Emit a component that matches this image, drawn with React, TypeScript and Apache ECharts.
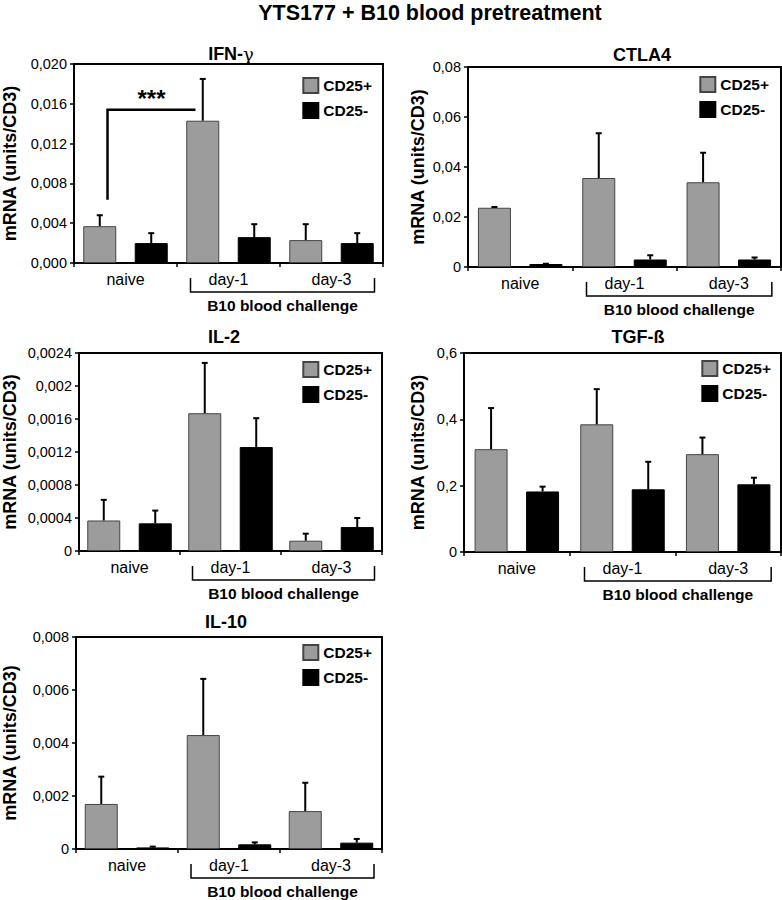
import React, { useEffect, useRef } from "react";
import * as echarts from "echarts";

const categories = ["naive", "day-1", "day-3"];
const seriesNames = ["CD25+", "CD25-"];

// IFN-gamma
const ifnPos = [0.0037, 0.0143, 0.0023];
const ifnPosErr = [0.0048, 0.0185, 0.0039];
const ifnNeg = [0.002, 0.0026, 0.002];
const ifnNegErr = [0.003, 0.0039, 0.003];
const ifnTicks = { max: 0.02, interval: 0.004 };

// CTLA4
const ctlaPos = [0.0237, 0.0356, 0.0339];
const ctlaPosErr = [0.024, 0.0535, 0.0457];
const ctlaNeg = [0.0012, 0.003, 0.003];
const ctlaNegErr = [0.0013, 0.0047, 0.0038];
const ctlaTicks = { max: 0.08, interval: 0.02 };

// IL-2
const il2Pos = [0.00037, 0.00167, 0.000125];
const il2PosErr = [0.00062, 0.00228, 0.00021];
const il2Neg = [0.000335, 0.00126, 0.00029];
const il2NegErr = [0.00049, 0.00161, 0.0004];
const il2Ticks = { max: 0.0024, interval: 0.0004 };

// TGF-beta
const tgfPos = [0.31, 0.385, 0.295];
const tgfPosErr = [0.434, 0.491, 0.345];
const tgfNeg = [0.1825, 0.189, 0.204];
const tgfNegErr = [0.197, 0.272, 0.224];
const tgfTicks = { max: 0.6, interval: 0.2 };

// IL-10
const il10Pos = [0.0017, 0.0043, 0.00143];
const il10PosErr = [0.00273, 0.00642, 0.0025];
const il10Neg = [0.00006, 0.000176, 0.00024];
const il10NegErr = [0.00009, 0.00025, 0.00038];
const il10Ticks = { max: 0.008, interval: 0.002 };

// significance bracket (IFN): [from category, to category, low y, high y]
const sigBracket = [[0, 1, 0.00635, 0.0154]];
const sigLabel = "***";

const mainTitle = "YTS177 + B10 blood pretreatment";
const yName = "mRNA (units/CD3)";
const challengeLabel = "B10 blood challenge";

const FONT = "'Liberation Sans', Arial, Helvetica, sans-serif";
const NARROW = "'Liberation Sans Narrow', 'Arial Narrow', 'Liberation Sans', Arial, sans-serif";
const GRAY = "#9c9c9c";
const BLACK = "#000000";
const BAR_W = 33;
const BAR_GAP = 0.56;
const OFF = (BAR_W + BAR_W * BAR_GAP) / 2;

const panels = [
  {
    title: "{b|IFN-}{g|γ}", tx: 231, ty: 54,
    grid: { left: 73, top: 64, width: 310, height: 199 },
    ticks: ifnTicks, dec: 3, pos: ifnPos, posErr: ifnPosErr, neg: ifnNeg, negErr: ifnNegErr,
    nameGap: 55, legRight: 410, legTop: 77,
  },
  {
    title: "{b|CTLA4}", tx: 642, ty: 55,
    grid: { left: 468, top: 67, width: 313, height: 200 },
    ticks: ctlaTicks, dec: 0, pos: ctlaPos, posErr: ctlaPosErr, neg: ctlaNeg, negErr: ctlaNegErr,
    nameGap: 41, legRight: 13, legTop: 76,
  },
  {
    title: "{b|IL-2}", tx: 224, ty: 337,
    grid: { left: 79, top: 353, width: 303, height: 198 },
    ticks: il2Ticks, dec: 0, pos: il2Pos, posErr: il2PosErr, neg: il2Neg, negErr: il2NegErr,
    nameGap: 60, legRight: 410, legTop: 361,
  },
  {
    title: "{b|TGF-ß}", tx: 638, ty: 337,
    grid: { left: 464, top: 353, width: 317, height: 199 },
    ticks: tgfTicks, dec: 0, pos: tgfPos, posErr: tgfPosErr, neg: tgfNeg, negErr: tgfNegErr,
    nameGap: 37, legRight: 11, legTop: 360,
  },
  {
    title: "{b|IL-10}", tx: 226, ty: 622,
    grid: { left: 76, top: 637, width: 306, height: 212 },
    ticks: il10Ticks, dec: 0, pos: il10Pos, posErr: il10PosErr, neg: il10Neg, negErr: il10NegErr,
    nameGap: 57, legRight: 410, legTop: 644,
  },
];

function fmt(dec: number) {
  return (v: number) => {
    if (dec) return v.toFixed(dec).replace(".", ",");
    if (v === 0) return "0";
    return String(parseFloat(v.toFixed(8))).replace(".", ",");
  };
}

function errRender(offset: number) {
  return (params: any, api: any) => {
    const c = api.value(0);
    const v = api.value(1);
    const e = api.value(2);
    const p0 = api.coord([c, v]);
    const p1 = api.coord([c, e]);
    const x = p0[0] + offset;
    return {
      type: "group",
      children: [
        { type: "line", shape: { x1: x, y1: p0[1], x2: x, y2: p1[1] }, style: { stroke: "#000", lineWidth: 2 } },
        { type: "line", shape: { x1: x - 3, y1: p1[1], x2: x + 3, y2: p1[1] }, style: { stroke: "#000", lineWidth: 2 } },
      ],
    };
  };
}

function bracketRender(params: any, api: any) {
  const a = api.coord([1, 0]);
  const b = api.coord([2, 0]);
  const y = a[1];
  const l = a[0] - 38;
  const r = b[0] + 43;
  return {
    type: "group",
    children: [
      {
        type: "polyline",
        shape: { points: [[l, y + 15], [l, y + 29], [r, y + 29], [r, y + 15]] },
        style: { stroke: "#000", lineWidth: 1.5, fill: "none" },
      },
      {
        type: "text",
        x: (l + r) / 2,
        y: y + 42,
        style: {
          text: challengeLabel, fontSize: 15.5, fontWeight: "bold", fontFamily: FONT,
          fill: "#000", align: "center", verticalAlign: "middle",
        },
      },
    ],
  };
}

function sigRender(params: any, api: any) {
  const c0 = api.value(0);
  const c1 = api.value(1);
  const lo = api.coord([c0, api.value(2)]);
  const hi = api.coord([c1, api.value(3)]);
  const xl = lo[0] - 18;
  const xr = hi[0] - 33;
  return {
    type: "group",
    children: [
      {
        type: "polyline",
        shape: { points: [[xl, lo[1]], [xl, hi[1]], [xr, hi[1]]] },
        style: { stroke: "#000", lineWidth: 2.5, fill: "none" },
      },
      {
        type: "text",
        x: (xl + xr) / 2,
        y: hi[1] + 1,
        style: {
          text: sigLabel, fontSize: 24, fontWeight: "bold", fontFamily: FONT,
          fill: "#000", align: "center", verticalAlign: "bottom",
        },
      },
    ],
  };
}

export default function App() {
  const ref = useRef<HTMLDivElement>(null);
  useEffect(() => {
    if (!ref.current) return;
    const chart = echarts.init(ref.current, null, { renderer: "svg" });

    const grids: any[] = [];
    const xAxes: any[] = [];
    const yAxes: any[] = [];
    const legends: any[] = [];
    const series: any[] = [];
    const graphics: any[] = [
      {
        type: "text", x: 430, y: 13,
        style: { text: mainTitle, fontSize: 21.5, fontWeight: "bold", fontFamily: FONT, fill: "#000", align: "center", verticalAlign: "middle" },
      },
    ];

    panels.forEach((p, i) => {
      grids.push({ ...p.grid, show: true, borderColor: "#000", borderWidth: 2, backgroundColor: "transparent" });
      xAxes.push({
        type: "category", gridIndex: i, data: categories,
        axisLine: { lineStyle: { color: "#000", width: 2 } },
        axisTick: { show: true, length: 4, lineStyle: { color: "#000", width: 1.5 } },
        axisLabel: { color: "#000", fontSize: 16, fontFamily: FONT, margin: 8 },
      });
      yAxes.push({
        type: "value", gridIndex: i, min: 0, max: p.ticks.max, interval: p.ticks.interval,
        name: yName, nameLocation: "middle", nameRotate: 90, nameGap: p.nameGap,
        nameTextStyle: { fontSize: 18, fontWeight: "bold", fontFamily: FONT, color: "#000" },
        axisLine: { show: true, lineStyle: { color: "#000", width: 2 } },
        axisTick: { show: true, length: 4, lineStyle: { color: "#000", width: 1.5 } },
        splitLine: { show: false },
        axisLabel: { color: "#000", fontSize: 14.5, fontFamily: NARROW, margin: 7, formatter: fmt(p.dec) },
      });
      legends.push({
        orient: "vertical", right: p.legRight, top: p.legTop, padding: 0,
        itemWidth: 15, itemHeight: 15, itemGap: 8, itemTextGap: 4, icon: "rect",
        selectedMode: false, data: seriesNames,
        textStyle: { fontSize: 15.5, fontWeight: "bold", fontFamily: FONT, color: "#000" },
      });
      series.push({
        type: "bar", name: seriesNames[0], xAxisIndex: i, yAxisIndex: i, data: p.pos,
        barWidth: BAR_W, barGap: `${BAR_GAP * 100}%`,
        itemStyle: { color: GRAY, borderColor: "#444", borderWidth: 1 },
      });
      series.push({
        type: "bar", name: seriesNames[1], xAxisIndex: i, yAxisIndex: i, data: p.neg,
        barWidth: BAR_W, barGap: `${BAR_GAP * 100}%`,
        itemStyle: { color: BLACK, borderColor: "#000", borderWidth: 1 },
      });
      series.push({
        type: "custom", xAxisIndex: i, yAxisIndex: i, clip: false, z: 5,
        renderItem: errRender(-OFF),
        data: p.pos.map((v, k) => [k, v, p.posErr[k]]),
      });
      series.push({
        type: "custom", xAxisIndex: i, yAxisIndex: i, clip: false, z: 5,
        renderItem: errRender(OFF),
        data: p.neg.map((v, k) => [k, v, p.negErr[k]]),
      });
      series.push({
        type: "custom", xAxisIndex: i, yAxisIndex: i, clip: false, z: 5,
        renderItem: bracketRender,
        data: [[1, 0]],
      });
      graphics.push({
        type: "text", x: p.tx, y: p.ty,
        style: {
          text: p.title, fill: "#000", align: "center", verticalAlign: "middle",
          rich: {
            b: { fontSize: 18, fontWeight: "bold", fontFamily: FONT, fill: "#000" },
            g: { fontSize: 18, fontFamily: "'DejaVu Serif', 'Liberation Serif', serif", fill: "#000" },
          },
        },
      });
    });

    series.push({
      type: "custom", xAxisIndex: 0, yAxisIndex: 0, clip: false, z: 6,
      renderItem: sigRender,
      data: sigBracket,
    });

    chart.setOption({
      animation: false,
      backgroundColor: "#ffffff",
      textStyle: { fontFamily: FONT },
      grid: grids,
      xAxis: xAxes,
      yAxis: yAxes,
      legend: legends,
      series,
      graphic: graphics,
    });
    return () => chart.dispose();
  }, []);

  return (
    <div
      ref={ref}
      style={{ position: "absolute", left: 0, top: 0, width: 782, height: 900, background: "#fff" }}
    />
  );
}
